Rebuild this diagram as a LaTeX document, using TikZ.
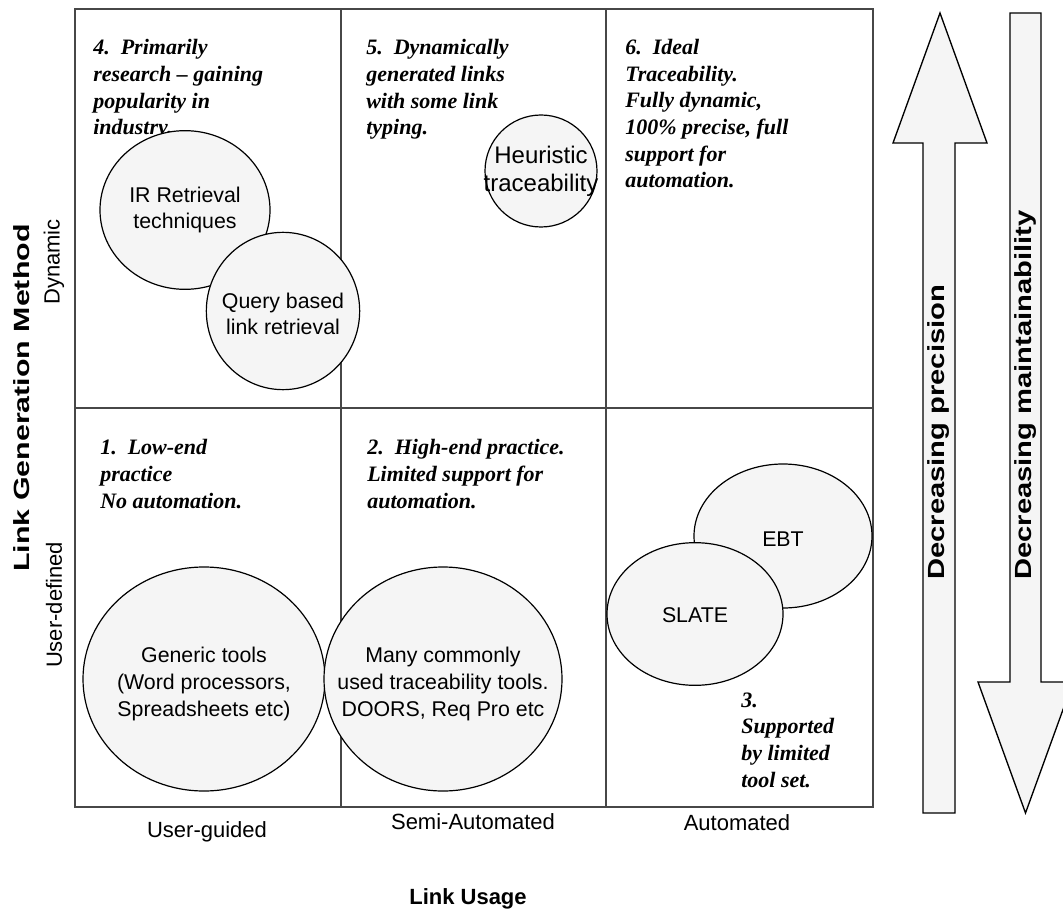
\documentclass[tikz,border=0pt]{standalone}
\usepackage{fontspec}
\setmainfont{Liberation Serif}
\setsansfont{Liberation Sans}
\newfontfamily\stsans[FakeStretch=1.25]{Liberation Sans}
\newfontfamily\lgmsans[FakeStretch=1.38]{Liberation Sans}
\usetikzlibrary{shapes.geometric}
\begin{document}
\begin{tikzpicture}[x=0.75pt,y=-0.75pt,
  gridline/.style={draw=black!72,line width=1.1pt},
  blob/.style={ellipse,draw=black,line width=0.9pt,fill=black!4,inner sep=0pt},
  celltext/.style={font=\fontsize{16.5}{20}\selectfont\rmfamily\bfseries\itshape,align=left,anchor=base west,inner sep=0pt},
  blobtext/.style={font=\fontsize{16}{20}\selectfont\sffamily,align=center,inner sep=0pt},
  axislabel/.style={font=\fontsize{16.5}{20}\selectfont\sffamily,anchor=base,inner sep=0pt},
  sidelabel/.style={font=\fontsize{16.5}{20}\selectfont\sffamily,rotate=90,inner sep=0pt},
  bigarrow/.style={draw=black,line width=1pt,fill=black!4,line join=miter},
  arrowlabel/.style={font=\fontsize{17.5}{20}\selectfont\stsans\bfseries,rotate=90,anchor=west,inner sep=0pt}]
\useasboundingbox (0,0) rectangle (1063,909);
\clip (0,0) rectangle (1063,909);

% grid
\draw[gridline] (75,9) rectangle (873,807);
\draw[gridline,line width=0.8pt] (341,9) -- (341,807);
\draw[gridline] (606,9) -- (606,807);
\draw[gridline] (75,408) -- (873,408);

% cell texts (anchored at the baseline of their last line)
\node[celltext] (c4) at (93,135) {4.\ \ Primarily\\research – gaining\\popularity in\\industry.};
\node[celltext] (c5) at (366,135) {5.\ \ Dynamically\\generated links\\with some link\\typing.};
\node[celltext] (c6) at (625,188) {6.\ \ Ideal\\Traceability.\\Fully dynamic,\\100\% precise, full\\support for\\automation.};
\node[celltext] (c1) at (100,508) {1.\ \ Low-end\\practice\\No automation.};
\node[celltext] (c2) at (367,508) {2.\ \ High-end practice.\\Limited support for\\automation.};
\node[celltext] (c3) at (741,787) {3.\\Supported\\by limited\\tool set.};

% blobs
\node[blob,minimum width=127.5pt,minimum height=119pt] (ir) at (185,210) {};
\node[blobtext] at (ir) {IR Retrieval\\techniques};
\node[blob,minimum width=115pt,minimum height=118pt] (query) at (283,311) {};
\node[blobtext] at (283,314) {Query based\\link retrieval};
\node[blob,minimum width=84pt,minimum height=84pt] (heur) at (541,171) {};
\node[blobtext,font=\fontsize{18}{21}\selectfont\sffamily] at (heur) {Heuristic\\traceability};
\node[blob,minimum width=181.5pt,minimum height=168pt] (generic) at (204,679) {};
\node[blobtext] at (204,684) {Generic tools\\(Word processors,\\Spreadsheets etc)};
\node[blob,minimum width=178.5pt,minimum height=168pt] (many) at (443,679) {};
\node[blobtext] at (443,684) {Many commonly\\used traceability tools.\\DOORS, Req Pro etc};
\node[blob,minimum width=133.5pt,minimum height=108pt] (ebt) at (783,536) {};
\node[blobtext] at (783,539) {EBT};
\node[blob,minimum width=132pt,minimum height=107pt] (slate) at (695,614) {};
\node[blobtext] at (695,615) {SLATE};

% axis labels
\node[axislabel] (ug) at (207,837) {User-guided};
\node[axislabel] (sa) at (473,829) {Semi-Automated};
\node[axislabel] (au) at (737,830) {Automated};
\node[axislabel,font=\fontsize{16.5}{20}\selectfont\sffamily\bfseries] (lu) at (468,904) {Link Usage};
\node[sidelabel,font=\fontsize{16.5}{20}\selectfont\lgmsans\bfseries] (lgm) at (22,398) {Link Generation Method};
\node[sidelabel] (dyn) at (54,262) {Dynamic};
\node[sidelabel] (udef) at (54,605) {User-defined};

% big arrows
\draw[bigarrow] (940,13) -- (987,143) -- (955,143) -- (955,813) -- (923,813) -- (923,143) -- (893,143) -- cycle;
\draw[bigarrow] (1010,13) -- (1041,13) -- (1041,682) -- (1073,682) -- (1025.5,813) -- (978,682) -- (1010,682) -- cycle;
\node[arrowlabel] (prec) at (939,580) {Decreasing precision};
\node[arrowlabel] (maint) at (1026,580) {Decreasing maintainability};
\end{tikzpicture}
\end{document}
